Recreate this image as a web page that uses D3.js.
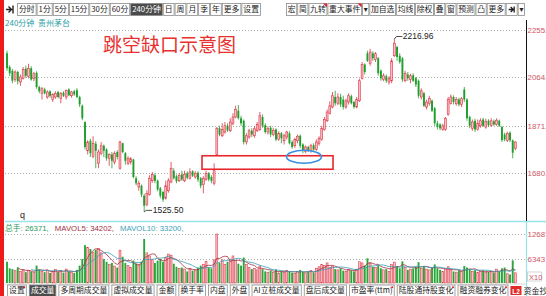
<!DOCTYPE html>
<html>
<head>
<meta charset="utf-8">
<script src="https://cdn.jsdelivr.net/npm/d3@7"></script>
<style>
  html, body { margin: 0; padding: 0; background: #fff; }
  svg { display: block; font-family: "Noto Sans CJK SC", "Noto Sans", "DejaVu Sans", sans-serif; }
</style>
</head>
<body>
<svg id="chart" width="546" height="296"></svg>
<script>
// 240-minute bars, 贵州茅台
const opens = [
  2160,2105,2090,2055,2085,2045,2060,2098,2068,2100,
  2058,2082,2025,2000,2015,1985,2008,1975,1985,2005,
  1980,2002,1985,2015,1990,2008,2012,1985,1950,1885,
  1770,1810,1748,1798,1720,1760,1790,1775,1740,1755,
  1725,1765,1700,1800,1760,1720,1725,1735,1660,1625,
  1630,1590,1555,1595,1650,1672,1650,1620,1605,1580,
  1610,1645,1690,1668,1650,1675,1650,1680,1660,1688,
  1665,1682,1660,1635,1655,1680,1665,1640,1755,1860,
  1830,1845,1870,1850,1880,1905,1930,1900,1890,1805,
  1825,1850,1830,1850,1855,1905,1872,1845,1862,1835,
  1855,1815,1840,1810,1825,1840,1805,1790,1810,1830,
  1795,1768,1785,1770,1792,1775,1800,1815,1855,1890,
  1920,1945,1985,1960,1985,1975,1945,1965,1988,1965,
  1945,1970,2060,2115,2160,2120,2160,2135,2140,2090,
  2055,2068,2045,2050,2150,2185,2150,2140,2050,2075,
  2055,2072,2060,2050,1985,2000,1945,1960,1970,1940,
  1880,1875,1855,1855,1915,1960,1985,1958,1975,1955,
  2015,1975,1905,1860,1890,1855,1870,1895,1865,1890,
  1872,1888,1875,1890,1865,1835,1812,1842,1812,1780
];
const highs = [
  2170,2112,2098,2092,2090,2075,2105,2110,2118,2108,
  2085,2088,2030,2025,2022,2012,2012,2000,2008,2010,
  2005,2008,2015,2020,2010,2014,2020,1990,1955,1888,
  1812,1818,1828,1808,1775,1805,1795,1780,1760,1765,
  1768,1772,1810,1802,1765,1748,1745,1738,1668,1650,
  1635,1598,1612,1672,1685,1680,1655,1625,1610,1650,
  1660,1725,1700,1675,1680,1690,1690,1688,1700,1692,
  1688,1688,1665,1668,1690,1685,1672,1720,1865,1870,
  1880,1885,1880,1900,1920,1950,1953,1910,1895,1840,
  1858,1860,1868,1885,1925,1915,1880,1868,1870,1862,
  1860,1848,1845,1838,1850,1848,1812,1822,1835,1835,
  1800,1792,1790,1798,1800,1815,1828,1870,1905,1935,
  1968,2005,2010,2000,1998,1990,1978,2000,1995,1970,
  1985,2058,2125,2120,2170,2178,2168,2165,2145,2095,
  2080,2075,2068,2140,2216.96,2190,2160,2145,2090,2085,
  2078,2080,2065,2055,2020,2005,1975,1990,1975,1945,
  1890,1880,1878,1905,1985,1995,1992,1985,1982,1985,
  2025,1980,1910,1895,1898,1895,1900,1902,1898,1896,
  1900,1895,1900,1895,1870,1842,1846,1848,1815,1808
];
const lows = [
  2090,2068,2040,2045,2035,2030,2055,2062,2060,2050,
  2048,2018,2000,1975,1995,1978,1982,1965,1978,1980,
  1960,1985,1975,1988,1982,1990,1980,1945,1892,1775,
  1755,1745,1740,1700,1700,1752,1745,1730,1710,1700,
  1715,1735,1695,1760,1715,1712,1715,1660,1632,1610,
  1585,1525.5,1548,1590,1642,1640,1608,1580,1565,1575,
  1602,1640,1655,1640,1645,1650,1645,1655,1655,1665,
  1658,1645,1620,1600,1650,1648,1640,1632,1752,1828,
  1825,1838,1845,1845,1872,1900,1895,1870,1795,1795,
  1818,1825,1822,1845,1850,1862,1838,1835,1825,1828,
  1808,1810,1800,1795,1815,1795,1778,1782,1800,1780,
  1760,1760,1765,1762,1768,1770,1790,1810,1850,1885,
  1915,1940,1950,1952,1945,1935,1938,1955,1955,1938,
  1940,1965,2055,2075,2125,2110,2130,2125,2070,2050,
  2048,2042,2035,2040,2145,2130,2118,2045,2045,2050,
  2040,2045,2025,1980,1975,1945,1935,1950,1925,1870,
  1855,1852,1850,1850,1910,1955,1955,1950,1948,1945,
  1965,1890,1860,1850,1845,1850,1862,1865,1858,1866,
  1865,1870,1870,1865,1805,1808,1805,1805,1740,1772
];
const closes = [
  2100,2080,2050,2085,2048,2065,2095,2070,2100,2055,
  2078,2025,2008,2018,2000,2005,1990,1995,2000,1985,
  2000,1990,2012,1992,2005,1995,1985,1955,1900,1785,
  1805,1760,1800,1770,1765,1790,1770,1740,1755,1730,
  1760,1745,1805,1765,1730,1740,1738,1665,1640,1640,
  1595,1550,1600,1660,1675,1650,1615,1590,1575,1630,
  1650,1700,1660,1648,1672,1655,1675,1662,1685,1670,
  1680,1655,1630,1660,1680,1655,1650,1690,1860,1835,
  1855,1870,1852,1885,1905,1935,1900,1880,1805,1830,
  1850,1835,1858,1875,1910,1870,1845,1860,1835,1852,
  1815,1840,1820,1830,1845,1800,1785,1815,1828,1790,
  1770,1785,1772,1790,1775,1805,1820,1860,1895,1925,
  1950,1990,1960,1985,1955,1945,1970,1990,1960,1945,
  1975,2050,2115,2085,2130,2165,2140,2158,2080,2060,
  2070,2050,2060,2130,2200,2145,2125,2055,2080,2060,
  2070,2050,2035,1990,2010,1950,1965,1980,1930,1880,
  1865,1860,1870,1900,1975,1985,1965,1975,1955,1978,
  1975,1900,1870,1885,1855,1880,1890,1870,1888,1872,
  1890,1875,1892,1870,1813,1815,1840,1812,1762,1805
];
const volumes = [
  55000,38000,36000,32000,40000,30000,34000,28000,33000,30000,
  27000,45000,35000,30000,28000,33000,26000,30000,35000,29000,
  32000,27000,36000,30000,28000,26000,34000,45000,62000,98000,
  92000,88000,80000,86000,90000,78000,62000,55000,48000,52000,
  44000,40000,85000,68000,52000,45000,40000,58000,50000,46000,
  55000,114000,78000,70000,60000,52000,58000,62000,55000,66000,
  75000,72000,50000,42000,38000,40000,36000,30000,38000,32000,
  34000,40000,45000,48000,56000,40000,38000,60000,126870,52000,
  60000,48000,55000,62000,70000,58000,50000,45000,66000,48000,
  40000,36000,38000,34000,44000,36000,30000,28000,32000,27000,
  35000,26000,30000,28000,33000,30000,27000,25000,30000,34000,
  28000,26000,30000,32000,27000,38000,42000,48000,45000,52000,
  40000,44000,36000,34000,38000,32000,30000,35000,33000,30000,
  36000,55000,52000,45000,64000,50000,42000,40000,46000,38000,
  34000,36000,30000,48000,54000,44000,38000,56000,40000,34000,
  36000,38000,42000,54000,38000,44000,36000,34000,40000,48000,
  38000,34000,30000,36000,42000,34000,30000,28000,32000,30000,
  44000,40000,36000,30000,33000,28000,30000,32000,27000,29000,
  30000,27000,36000,29990,38000,40000,24000,22000,58639,26371
];

const priceTicks = [2255, 2064, 1871, 1680];
const priceTickLabels = ["2255.", "2064.", "1871.", "1680."];
const volTicks = [126870, 63430];
const volTickLabels = ["12687", "6343"];

const periodButtons = ["分时", "1分", "5分", "15分", "30分", "60分", "240分钟", "日", "周", "月", "季", "年", "更多", "设置"];
const toolButtons = ["宏", "简", "九转", "重大事件", "▾", "加自选", "均线", "除权", "叠", "窗", "预测", "凸", "更多", "icon", "▾"];
const indicatorTabs = ["设置", "成交量", "多周期成交量", "虚拟成交量", "金额", "换手率", "内盘", "外盘", "AI立桩成交量", "盘后成交量", "市盈率(ttm)", "陆股通持股变化", "融资融券变化"];

const chartTitle = "跳空缺口示意图";
const stockLine = "240分钟  贵州茅台";
const peak = { index: 144, price: 2216.96, label: "2216.96" };
const trough = { index: 51, price: 1525.50, label: "1525.50" };
const gapZone = { from: 72.5, to: 121.2, top: 1750, bottom: 1696 };
const gapRetest = { index: 110.4, price: 1746 };
const volumeSummary = { total: 26371, ma5: 34202, ma10: 33200 };

// ---------------------------------------------------------------
const svg = d3.select("#chart");
const W = 546, H = 296;
const n = closes.length;
const bars = d3.range(n).map(i => ({
  i, o: opens[i], h: highs[i], l: lows[i], c: closes[i], v: volumes[i],
  up: closes[i] >= opens[i]
}));

const x = d3.scaleLinear().domain([0, n - 1]).range([7, 515.4]);
const y = d3.scaleLinear().domain([1680, 2255]).range([173.25, 29.5]);
const yv = d3.scaleLinear().domain([0, 126870]).range([283, 234]);

const UP_FILL = "#f7c0c6", UP_STROKE = "#dc3544", DOWN = "#1f9e2c";
const AXIS_TXT = "#cf5668";
const bodyW = 1.9;

const measurer = svg.append("text").attr("visibility", "hidden");
function textWidth(s, size) {
  measurer.attr("font-size", size).text(s);
  return measurer.node().getComputedTextLength();
}

// left accent strip
svg.append("rect").attr("x", 0).attr("y", 0).attr("width", 4).attr("height", H).attr("fill", "#ee1b1b");

// ---------------- toolbar ----------------
function buttonRow(labels, opt) {
  const g = svg.append("g");
  const widths = labels.map(t => t === "icon" ? 11 : textWidth(t, opt.font) + opt.pad * 2);
  const total = d3.sum(widths) + opt.gap * (labels.length - 1);
  let cx = opt.align === "right" ? opt.x0 - total : opt.x0;
  labels.forEach((t, k) => {
    const w = widths[k];
    const sel = k === opt.selected;
    g.append("rect").attr("x", cx + 0.5).attr("y", opt.y0 + 0.5).attr("width", w).attr("height", opt.h)
      .attr("fill", sel ? "#4b4b4b" : "#fff").attr("stroke", "#8c8c8c").attr("stroke-width", 0.8);
    if (t === "icon") {
      g.append("path").attr("d", `M${cx + 3},${opt.y0 + 6.5}h4M${cx + 5},${opt.y0 + 4}l2.6,2.5l-2.6,2.5M${cx + 8.5},${opt.y0 + 3.5}v6`)
        .attr("stroke", "#222").attr("stroke-width", 1.3).attr("fill", "none");
    } else {
      g.append("text").attr("x", cx + w / 2 + 0.5).attr("y", opt.y0 + opt.h - 2.6)
        .attr("text-anchor", "middle").attr("font-size", opt.font)
        .attr("fill", sel ? "#fff" : "#222").text(t);
    }
    if (opt.flagged && opt.flagged.includes(k)) {
      g.append("path").attr("d", `M${cx + w - 3.5},${opt.y0 + 0.5}h4v4z`).attr("fill", "#e0202a");
    }
    if (opt.dots && opt.dots.includes(k)) {
      g.append("circle").attr("cx", cx + w - 1.5).attr("cy", opt.y0 + 2.8).attr("r", 1).attr("fill", "#e0202a");
    }
    cx += w + opt.gap;
  });
  return cx;
}

// toolbar arrow icon
svg.append("path").attr("d", "M6,9.5h5M8.5,6.5l3,3l-3,3M13,5.5v8")
  .attr("stroke", "#222").attr("stroke-width", 1.4).attr("fill", "none");
buttonRow(periodButtons, { x0: 17, y0: 3, h: 12, font: 7.8, pad: 1.5, gap: 1, selected: 6 });
buttonRow(toolButtons, { x0: 524, y0: 3, h: 12, font: 7.8, pad: 1.2, gap: 1, align: "right", flagged: [2, 3] });

svg.append("text").attr("x", 5).attr("y", 25.5).attr("font-size", 8).attr("fill", "#2aa0a0")
  .attr("xml:space", "preserve").text(stockLine);

// ---------------- main price panel ----------------
const grid = svg.append("g").attr("stroke", "#9a9a9a").attr("stroke-dasharray", "1,2").attr("stroke-width", 0.8);
grid.selectAll("line.p").data(priceTicks).join("line").attr("class", "p")
  .attr("x1", 5).attr("x2", 526).attr("y1", d => Math.round(y(d)) + 0.5).attr("y2", d => Math.round(y(d)) + 0.5);
grid.selectAll("line.v").data(volTicks).join("line").attr("class", "v")
  .attr("x1", 5).attr("x2", 526).attr("y1", d => Math.round(yv(d)) + 0.5).attr("y2", d => Math.round(yv(d)) + 0.5);

svg.append("text").attr("x", 103).attr("y", 52).attr("font-size", 19).attr("fill", "#e8302e").text(chartTitle);

const candles = svg.append("g");
candles.selectAll("line").data(bars).join("line")
  .attr("x1", d => x(d.i)).attr("x2", d => x(d.i))
  .attr("y1", d => y(d.h)).attr("y2", d => y(d.l))
  .attr("stroke", d => d.up ? UP_STROKE : DOWN).attr("stroke-width", 0.8);
candles.selectAll("rect").data(bars).join("rect")
  .attr("x", d => x(d.i) - bodyW / 2)
  .attr("y", d => y(Math.max(d.o, d.c)))
  .attr("width", bodyW)
  .attr("height", d => Math.max(1, Math.abs(y(d.o) - y(d.c))))
  .attr("fill", d => d.up ? UP_FILL : DOWN)
  .attr("stroke", d => d.up ? UP_STROKE : "none").attr("stroke-width", 0.6);

// extreme-value callouts
function callout(pt, dir) {
  const px = x(pt.index), py = y(pt.price);
  const ly = py + dir * 2.5;
  svg.append("path").attr("d", `M${px},${py}L${px + 2},${ly}L${px + 8},${ly}`)
    .attr("stroke", "#222").attr("stroke-width", 0.8).attr("fill", "none");
  svg.append("text").attr("x", px + 8.5).attr("y", ly).attr("dy", "0.35em")
    .attr("font-family", "Liberation Sans, Arial, sans-serif").attr("font-size", 8.5).attr("fill", "#222").text(pt.label);
}
callout(peak, -1);
callout(trough, -0.6);

// gap zone and retest marker
svg.append("rect")
  .attr("x", x(gapZone.from)).attr("y", y(gapZone.top))
  .attr("width", x(gapZone.to) - x(gapZone.from)).attr("height", y(gapZone.bottom) - y(gapZone.top))
  .attr("fill", "none").attr("stroke", "#e8262b").attr("stroke-width", 1.6);
svg.append("ellipse")
  .attr("cx", x(gapRetest.index)).attr("cy", y(gapRetest.price)).attr("rx", 17.5).attr("ry", 6.5)
  .attr("fill", "none").attr("stroke", "#3a8fe0").attr("stroke-width", 1.6);

svg.append("text").attr("x", 20).attr("y", 218).attr("font-size", 9).attr("fill", "#222")
  .attr("font-family", "Liberation Sans, Arial, sans-serif").text("q");

// right price axis
const pAxis = svg.append("g").attr("transform", "translate(526,0)")
  .call(d3.axisRight(y).tickValues(priceTicks).tickFormat((d, k) => priceTickLabels[k]).tickSize(0).tickPadding(1.5));
pAxis.select(".domain").remove();
pAxis.selectAll("text").attr("font-size", 7.9).attr("fill", AXIS_TXT)
  .attr("font-family", "Liberation Sans, Arial, sans-serif");

// ---------------- volume panel ----------------
svg.append("line").attr("x1", 5).attr("x2", W).attr("y1", 221.5).attr("y2", 221.5)
  .attr("stroke", "#98e2ea").attr("stroke-width", 1.5);
svg.append("line").attr("x1", 526.5).attr("x2", 526.5).attr("y1", 20).attr("y2", 221)
  .attr("stroke", "#111").attr("stroke-width", 1);
svg.append("line").attr("x1", 526.5).attr("x2", 526.5).attr("y1", 222).attr("y2", 296)
  .attr("stroke", "#98e2ea").attr("stroke-width", 1.2);

const vHead = svg.append("text").attr("x", 5).attr("y", 231).attr("font-size", 7.8)
  .attr("font-family", "Liberation Sans, Arial, \"Noto Sans CJK SC\", sans-serif");
vHead.append("tspan").attr("fill", "#2b9a5a").text(`总手: ${volumeSummary.total},`);
vHead.append("tspan").attr("dx", 6).attr("fill", "#a3303e").text(`MAVOL5: ${volumeSummary.ma5},`);
vHead.append("tspan").attr("dx", 6).attr("fill", "#3a9fb8").text(`MAVOL10: ${volumeSummary.ma10},`);

const vol = svg.append("g");
vol.selectAll("rect").data(bars).join("rect")
  .attr("x", d => x(d.i) - bodyW / 2)
  .attr("y", d => yv(d.v))
  .attr("width", bodyW)
  .attr("height", d => yv(0) - yv(d.v))
  .attr("fill", d => d.up ? UP_FILL : "#2aa538")
  .attr("stroke", d => d.up ? UP_STROKE : "none").attr("stroke-width", 0.55);

function movingAverage(arr, k) {
  return arr.map((v, i) => i < k - 1 ? null : d3.mean(arr.slice(i - k + 1, i + 1)));
}
const maLine = d3.line().defined(d => d[1] != null).x(d => x(d[0])).y(d => yv(d[1]));
[[5, "#a3303e"], [10, "#3a9fb8"]].forEach(([k, col]) => {
  const ma = movingAverage(volumes, k).map((v, i) => [i, v]);
  svg.append("path").datum(ma).attr("d", maLine)
    .attr("fill", "none").attr("stroke", col).attr("stroke-width", 0.8);
});

const vAxis = svg.append("g").attr("transform", "translate(526,0)")
  .call(d3.axisRight(yv).tickValues(volTicks).tickFormat((d, k) => volTickLabels[k]).tickSize(0).tickPadding(1.5));
vAxis.select(".domain").remove();
vAxis.selectAll("text").attr("font-size", 7.9).attr("fill", AXIS_TXT)
  .attr("font-family", "Liberation Sans, Arial, sans-serif");
svg.append("rect").attr("x", 527.5).attr("y", 272).attr("width", 14).attr("height", 9)
  .attr("fill", "#fff").attr("stroke", "#b8b8b8").attr("stroke-width", 0.6);
svg.append("text").attr("x", 529).attr("y", 279.5).attr("font-size", 7.5).attr("fill", AXIS_TXT)
  .attr("font-family", "Liberation Sans, Arial, sans-serif").text("X10");

// ---------------- indicator tabs ----------------
svg.append("line").attr("x1", 5).attr("x2", 526).attr("y1", 284).attr("y2", 284).attr("stroke", "#cfcfcf").attr("stroke-width", 0.8);
const tabEnd = buttonRow(indicatorTabs, { x0: 7, y0: 284.5, h: 11.5, font: 7.8, pad: 1.6, gap: 3, selected: 1, dots: [0, 10, 11, 12] });
svg.append("rect").attr("x", tabEnd).attr("y", 286).attr("width", 11).attr("height", 9).attr("fill", "#e02a2a");
svg.append("text").attr("x", tabEnd + 5.5).attr("y", 293.5).attr("text-anchor", "middle").attr("font-size", 6.5)
  .attr("font-family", "Liberation Sans, Arial, sans-serif").attr("font-weight", "bold").attr("fill", "#fff").text("L2");
svg.append("text").attr("x", tabEnd + 13).attr("y", 294).attr("font-size", 8).attr("fill", "#222").text("资金抄底");
</script>
</body>
</html>
